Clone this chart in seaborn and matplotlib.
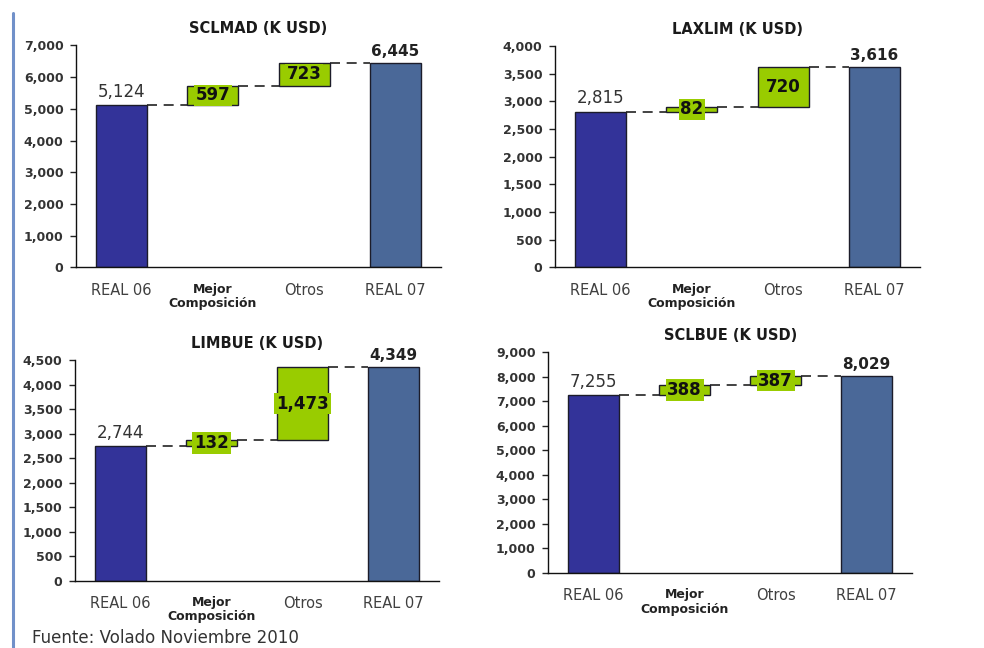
import numpy as np
import pandas as pd
import matplotlib
matplotlib.use("Agg")
import matplotlib.pyplot as plt
from matplotlib.lines import Line2D
from matplotlib.ticker import StrMethodFormatter
import seaborn as sns

# ---- data -------------------------------------------------------------
categories = ["REAL 06", "Mejor Composición", "Otros", "REAL 07"]
tick_text = ["REAL 06", "Mejor\nComposición", "Otros", "REAL 07"]

routes = ["SCLMAD", "LAXLIM", "LIMBUE", "SCLBUE"]
real06 = [5124, 2815, 2744, 7255]
mejor_comp = [597, 82, 132, 388]
otros = [723, 720, 1473, 387]
real07 = [6445, 3616, 4349, 8029]

y_max = [7000, 4000, 4500, 9000]
y_step = [1000, 500, 500, 1000]

# ---- style ------------------------------------------------------------
sns.set_style("white")
plt.rcParams["font.family"] = ["DejaVu Sans"]

BLUE_06 = "#333399"
BLUE_07 = "#4a6898"
GREEN = "#99cc00"
EDGE = "#1c1c2a"
BAR_W = 0.56

fig = plt.figure(figsize=(9.84, 6.48), dpi=100)
fig.patch.set_facecolor("white")

positions = [
    (0.0772, 0.5872, 0.371, 0.3429),
    (0.5640, 0.5875, 0.371, 0.3415),
    (0.0762, 0.1034, 0.370, 0.3410),
    (0.5570, 0.1157, 0.370, 0.3410),
]

for k, pos in enumerate(positions):
    ax = fig.add_axes(pos)

    totals = pd.DataFrame({
        "cat": categories,
        "value": [real06[k], np.nan, np.nan, real07[k]],
    })
    sns.barplot(
        data=totals, x="cat", y="value", hue="cat", order=categories,
        hue_order=categories,
        palette={"REAL 06": BLUE_06, "Mejor Composición": GREEN,
                 "Otros": GREEN, "REAL 07": BLUE_07},
        width=BAR_W, saturation=1, edgecolor=EDGE, linewidth=1.0,
        legend=False, ax=ax,
    )

    # floating boxes for the two variations
    starts = [real06[k], real06[k] + mejor_comp[k]]
    deltas = [mejor_comp[k], otros[k]]
    ax.bar([1, 2], deltas, bottom=starts, width=BAR_W, color=GREEN,
           edgecolor=EDGE, linewidth=1.0, zorder=3)

    # dashed connectors between consecutive bars
    levels = [real06[k], real06[k] + mejor_comp[k],
              real06[k] + mejor_comp[k] + otros[k]]
    for i, lev in enumerate(levels):
        ax.plot([i + BAR_W / 2, i + 1 - BAR_W / 2], [lev, lev],
                color="#222222", lw=1.2, ls=(0, (6, 4)), zorder=2)

    # value labels of the totals
    ax.annotate(f"{real06[k]:,}", xy=(0, real06[k]), xytext=(0, 3),
                textcoords="offset points", ha="center", va="bottom",
                fontsize=12, color="#333333", annotation_clip=False)
    ax.annotate(f"{real07[k]:,}", xy=(3, real07[k]), xytext=(0, 3),
                textcoords="offset points", ha="center", va="bottom",
                fontsize=11, fontweight="bold", color="#222222",
                annotation_clip=False)

    # labels of the variations
    for i, (s, d) in enumerate(zip(starts, deltas), start=1):
        ax.text(i, s + d / 2, f"{d:,}", ha="center", va="center",
                fontsize=12, fontweight="bold", color="#111111", zorder=5,
                bbox=dict(boxstyle="square,pad=0.1", fc=GREEN, ec="none"))

    # axes
    ax.set_xlim(-0.5, 3.5)
    ax.set_ylim(0, y_max[k])
    ax.set_yticks(np.arange(0, y_max[k] + 1, y_step[k]))
    ax.yaxis.set_major_formatter(StrMethodFormatter("{x:,.0f}"))
    ax.set_xlabel("")
    ax.set_ylabel("")
    ax.set_xticks(range(len(categories)))
    ax.set_xticklabels(tick_text)
    for lab in ax.get_xticklabels():
        if "\n" in lab.get_text():
            lab.set_fontsize(9)
            lab.set_fontweight("bold")
            lab.set_color("#222222")
            lab.set_linespacing(1.12)
        else:
            lab.set_fontsize(10.5)
            lab.set_color("#404040")
    ax.tick_params(axis="x", length=0, pad=11)
    ax.tick_params(axis="y", length=4, width=1, direction="out", pad=5,
                   labelsize=9, colors="#333333", left=True)
    for lab in ax.get_yticklabels():
        lab.set_fontweight("bold")
    ax.tick_params(axis="y", color="#222222")
    sns.despine(ax=ax)
    for side in ("left", "bottom"):
        ax.spines[side].set_color("#111111")
        ax.spines[side].set_linewidth(1.0)

    ax.set_title(f"{routes[k]} (K USD)", fontsize=10.5, fontweight="bold",
                 color="#1a1a1a", pad=9)

# left accent rule and source note
fig.add_artist(Line2D([12.5 / 984, 12.5 / 984], [0, 1 - 13 / 648],
                      transform=fig.transFigure, color="#7191c9", lw=2.2))
fig.text(32 / 984, 1 / 648, "Fuente: Volado Noviembre 2010", fontsize=12,
         color="#333333", ha="left", va="bottom")

fig.savefig("out.png", dpi=100, facecolor="white")
